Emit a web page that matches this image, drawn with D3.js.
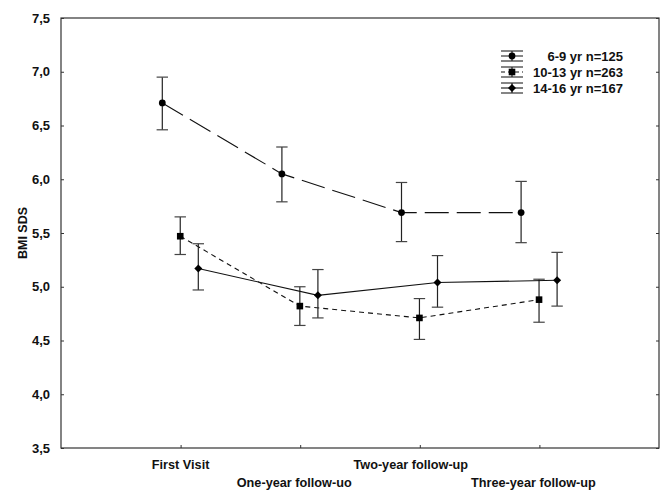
<!DOCTYPE html>
<html>
<head>
<meta charset="utf-8">
<script src="https://cdn.jsdelivr.net/npm/d3@7"></script>
<style>
  html, body { margin: 0; padding: 0; background: #fff; }
  svg { display: block; }
  text { font-family: "Liberation Sans", Arial, sans-serif; font-weight: bold; fill: #111; }
</style>
</head>
<body>
<svg id="chart" width="664" height="492"></svg>
<script>
// ---- data ----
const categories = ["First Visit", "One-year follow-uo", "Two-year follow-up", "Three-year follow-up"];
const seriesNames = ["6-9 yr n=125", "10-13 yr n=263", "14-16 yr n=167"];
const mean_6_9   = [6.71, 6.05, 5.69, 5.69];
const lo_6_9     = [6.46, 5.79, 5.42, 5.41];
const hi_6_9     = [6.95, 6.30, 5.97, 5.98];
const mean_10_13 = [5.47, 4.82, 4.71, 4.88];
const lo_10_13   = [5.30, 4.64, 4.51, 4.67];
const hi_10_13   = [5.65, 5.00, 4.89, 5.07];
const mean_14_16 = [5.17, 4.92, 5.04, 5.06];
const lo_14_16   = [4.97, 4.71, 4.81, 4.82];
const hi_14_16   = [5.40, 5.16, 5.29, 5.32];
const yTicks = [3.5, 4.0, 4.5, 5.0, 5.5, 6.0, 6.5, 7.0, 7.5];
const yTitle = "BMI SDS";

// ---- layout / styles ----
const svg = d3.select("#chart");
const L = 61, R = 659, T = 18, B = 448;
const x = d3.scaleLinear().domain([0, 5]).range([L, R]);
const y = d3.scaleLinear().domain([3.5, 7.5]).range([B, T]);
const fmt = v => d3.format(".1f")(v).replace(".", ",");

const series = [
  { name: seriesNames[0], mean: mean_6_9,   lo: lo_6_9,   hi: hi_6_9,   off: -0.153, dash: "24,8", marker: "circle" },
  { name: seriesNames[1], mean: mean_10_13, lo: lo_10_13, hi: hi_10_13, off: -0.003, dash: "5,4",  marker: "square" },
  { name: seriesNames[2], mean: mean_14_16, lo: lo_14_16, hi: hi_14_16, off: 0.148,  dash: null,   marker: "diamond" }
];

// frame
const axisColor = "#333";
svg.append("rect").attr("x", L).attr("y", T).attr("width", R - L).attr("height", B - T)
  .attr("fill", "none").attr("stroke", axisColor).attr("stroke-width", 1.2);

// y axis (inward ticks)
const yAxis = d3.axisLeft(y).tickValues(yTicks).tickFormat(fmt).tickSizeInner(-3).tickSizeOuter(0).tickPadding(11);
const gy = svg.append("g").attr("transform", `translate(${L},0)`).call(yAxis);
gy.select(".domain").remove();
gy.selectAll("line").attr("stroke", axisColor);
gy.selectAll("text").style("font-size", "13px").style("font-family", "Liberation Sans, Arial, sans-serif")
  .style("font-weight", "bold").attr("fill", "#111");

// right ticks
const yAxisR = d3.axisRight(y).tickValues(yTicks).tickFormat("").tickSizeInner(-3).tickSizeOuter(0);
const gyr = svg.append("g").attr("transform", `translate(${R},0)`).call(yAxisR);
gyr.select(".domain").remove();
gyr.selectAll("line").attr("stroke", axisColor);

// x axis (inward ticks)
const xAxis = d3.axisBottom(x).tickValues([1, 2, 3, 4]).tickFormat("").tickSizeInner(-3).tickSizeOuter(0);
const gx = svg.append("g").attr("transform", `translate(0,${B})`).call(xAxis);
gx.select(".domain").remove();
gx.selectAll("line").attr("stroke", axisColor);

// x category labels (staggered in two rows)
const labelShift = [0, -6, -9, -6];
svg.append("g").selectAll("text").data(categories).join("text")
  .attr("x", (d, i) => x(i + 1) + labelShift[i])
  .attr("y", (d, i) => i % 2 === 0 ? 469 : 487)
  .attr("text-anchor", "middle")
  .style("font-size", "12.7px")
  .text(d => d);

// y title
svg.append("text")
  .attr("transform", `translate(27,${(T + B) / 2}) rotate(-90)`)
  .attr("text-anchor", "middle")
  .style("font-size", "12.5px")
  .text(yTitle);

// marker drawing
function drawMarker(g, type, cx, cy) {
  if (type === "circle") {
    g.append("circle").attr("cx", cx).attr("cy", cy).attr("r", 3.4).attr("fill", "#000");
  } else if (type === "square") {
    g.append("rect").attr("x", cx - 3.3).attr("y", cy - 3.3).attr("width", 6.6).attr("height", 6.6).attr("fill", "#000");
  } else {
    const s = 4;
    g.append("path").attr("d", `M${cx},${cy - s}L${cx + s},${cy}L${cx},${cy + s}L${cx - s},${cy}Z`).attr("fill", "#000");
  }
}

// series
series.forEach(s => {
  const g = svg.append("g");
  const pts = s.mean.map((m, i) => ({ x: x(i + 1 + s.off), m, lo: s.lo[i], hi: s.hi[i] }));
  const line = d3.line().x(d => d.x).y(d => y(d.m));
  g.append("path").datum(pts).attr("d", line).attr("fill", "none")
    .attr("stroke", "#111").attr("stroke-width", 1.1)
    .attr("stroke-dasharray", s.dash);
  pts.forEach(p => {
    g.append("line").attr("x1", p.x).attr("x2", p.x).attr("y1", y(p.lo)).attr("y2", y(p.hi))
      .attr("stroke", "#222").attr("stroke-width", 1.2);
    [p.lo, p.hi].forEach(v => {
      g.append("line").attr("x1", p.x - 5.7).attr("x2", p.x + 5.7).attr("y1", y(v)).attr("y2", y(v))
        .attr("stroke", "#444").attr("stroke-width", 1.2);
    });
    drawMarker(g, s.marker, p.x, y(p.m));
  });
});

// legend
const legY = [56, 72, 88];
const lg = svg.append("g");
series.forEach((s, i) => {
  const cy = legY[i];
  const x0 = 501, x1 = 523, cx = 512;
  [cy - 5, cy + 5].forEach(yy => {
    lg.append("line").attr("x1", x0).attr("x2", x1).attr("y1", yy).attr("y2", yy)
      .attr("stroke", "#333").attr("stroke-width", 1.2);
  });
  lg.append("line").attr("x1", x0).attr("x2", x1).attr("y1", cy).attr("y2", cy)
    .attr("stroke", "#111").attr("stroke-width", 1.1).attr("stroke-dasharray", s.dash ? (i === 0 ? "10,4" : "4,3") : null);
  lg.append("line").attr("x1", cx).attr("x2", cx).attr("y1", cy - 5).attr("y2", cy + 5)
    .attr("stroke", "#222").attr("stroke-width", 1.2);
  drawMarker(lg, s.marker, cx, cy);
  lg.append("text").attr("x", 623).attr("y", cy + 5).attr("text-anchor", "end")
    .style("font-size", "13px").text(s.name);
});
</script>
</body>
</html>
